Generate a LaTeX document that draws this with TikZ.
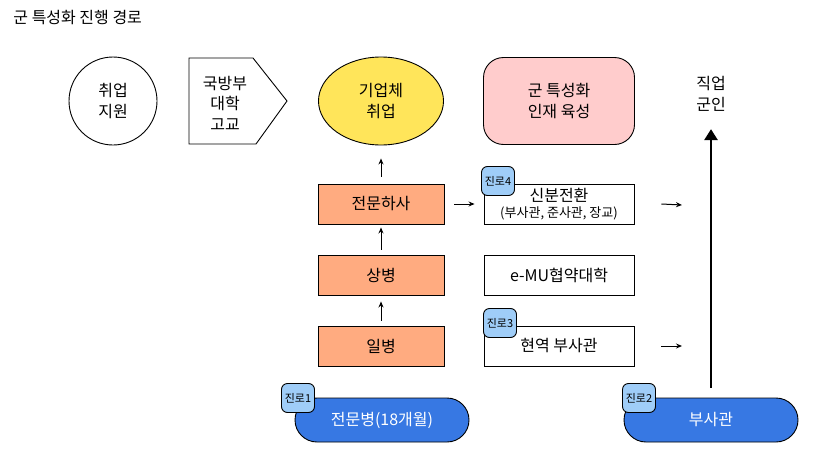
\documentclass[tikz,border=0pt]{standalone}
\usepackage{fontspec}
\setmainfont{Noto Sans CJK KR}
\usepackage{xcolor}
\usetikzlibrary{shapes.geometric, arrows.meta, positioning}
\definecolor{rankorange}{HTML}{FFAB80}
\definecolor{jobyellow}{HTML}{FFE55A}
\definecolor{talentpink}{HTML}{FFCCCC}
\definecolor{pathblue}{HTML}{3778E3}
\definecolor{tagblue}{HTML}{9FCDF8}
\tikzstyle{support} = [circle, minimum size=88pt, inner sep=0pt, text centered, align=center, draw=black]
\tikzstyle{company} = [ellipse, minimum width=125pt, minimum height=88pt, inner sep=0pt, align=center, draw=black, fill=jobyellow]
\tikzstyle{talent} = [rectangle, rounded corners=20pt, minimum width=151pt, minimum height=87pt, align=center, draw=black, fill=talentpink]
\tikzstyle{rank} = [rectangle, minimum width=126pt, minimum height=40pt, inner sep=0pt, draw=black, fill=rankorange]
\tikzstyle{route} = [rectangle, minimum width=150pt, minimum height=40pt, inner sep=0pt, align=center, draw=black, fill=white]
\tikzstyle{pill} = [rectangle, rounded corners=22pt, minimum width=174pt, minimum height=44pt, inner sep=0pt, draw=black, fill=pathblue, text=white]
\tikzstyle{tag} = [rectangle, rounded corners=6pt, minimum width=33pt, minimum height=29pt, inner sep=0pt, draw=black, fill=tagblue, font=\fontsize{11}{12}\selectfont]
\tikzstyle{arrow} = [line width=1pt,-{Stealth[length=6pt,width=5pt]}]
\tikzstyle{bigarrow} = [line width=2.6pt,-{Triangle[length=11pt,width=13pt]}]

\begin{document}
\begin{tikzpicture}[x=1pt, y=-1pt, line width=0.9pt, node distance=71pt, font=\fontsize{16}{20.5}\selectfont]
\useasboundingbox (0,0) rectangle (814,450);
\node (title) [anchor=west, inner sep=0pt] at (13,18) {군 특성화 진행 경로};

% top row
\node (support) [support] at (113,101) {취업\\지원};
\draw (189,58) -- (253,58) -- (287,101) -- (256,144) -- (189,144) -- cycle;
\node (gukbang) [align=center] at (225,103) {국방부\\대학\\고교};
\node (company) [company] at (381,101) {기업체\\취업};
\node (talent) [talent] at (559,101) {군 특성화\\인재 육성};
\node (career) [align=center] at (711,94) {직업\\군인};

% ranks
\node (hasa) [rank] at (381,204) {전문하사};
\node (sangbyeong) [rank, below of=hasa] {상병};
\node (ilbyeong) [rank, below of=sangbyeong] {일병};

% routes
\node (change) [route] at (559,204) {신분전환\\[-5pt]{\fontsize{13}{14}\selectfont (부사관, 준사관, 장교)}};
\node (emu) [route] at (559,275) {e-MU협약대학};
\node (active) [route] at (559,346) {현역 부사관};
\node (tag4) [tag] at (498,181) {진로4};
\node (tag3) [tag] at (500,323) {진로3};

% bottom
\node (expert) [pill] at (382,420) {전문병(18개월)};
\node (busagwan) [pill] at (711,420) {부사관};
\node (tag1) [tag] at (298,398) {진로1};
\node (tag2) [tag] at (639,398) {진로2};

\coordinate (out4) at (682,205);
\coordinate (out3) at (682,346);

\draw [arrow, shorten <=5pt, shorten >=6pt] (ilbyeong) -- (sangbyeong);
\draw [arrow, shorten <=5pt, shorten >=3pt] (sangbyeong) -- (hasa);
\draw [arrow, shorten <=7pt, shorten >=13pt] (hasa) -- (company);
\draw [arrow, shorten <=10pt, shorten >=9pt] (hasa) -- (change);
\draw [arrow] ([xshift=27pt]change.east) -- (out4);
\draw [arrow] ([xshift=27pt]active.east) -- (out3);
\draw [bigarrow, shorten <=10pt, shorten >=14pt] (busagwan) -- (career);
\end{tikzpicture}
\end{document}
